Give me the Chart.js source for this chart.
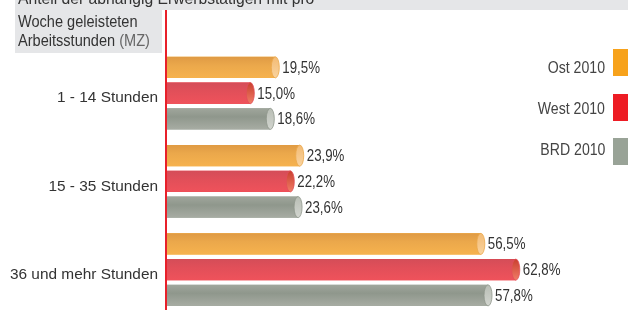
<!DOCTYPE html>
<html>
<head>
<meta charset="utf-8">
<script src="https://cdn.jsdelivr.net/npm/chart.js@4/dist/chart.umd.min.js"></script>
<style>
  html, body { margin: 0; padding: 0; background: #fff; overflow: hidden; }
  #wrap { position: relative; width: 628px; height: 310px; overflow: hidden; }
  #box { position: absolute; left: 0; top: 0; width: 628px; height: 332px; }
  .grey { position: absolute; background: #e5e6e8; }
  .title { position: absolute; left: 18px; white-space: nowrap; color: #333;
    font-family: "Liberation Sans", Arial, sans-serif;
    font-size: 16px; line-height: 19px; transform-origin: 0 50%; }
  .title span { color: #666; }
  .leg-text { position: absolute; right: 23px; white-space: nowrap; color: #444;
    font-family: "Liberation Sans", Arial, sans-serif;
    font-size: 17px; line-height: 20px; transform: scaleX(0.83); transform-origin: 100% 50%; }
  .leg-box { position: absolute; left: 613px; width: 15px; height: 27px; }
</style>
</head>
<body>
<div id="wrap">
  <div id="box"><canvas id="hoursChart"></canvas></div>
  <div class="grey" style="left:15px;top:0;width:613px;height:9.5px"></div>
  <div class="grey" style="left:15px;top:0;width:147px;height:52.5px"></div>
  <div class="title" style="top:-11px;transform:scaleX(0.98)">Anteil der abhängig Erwerbstätigen mit pro</div>
  <div class="title" style="top:11.5px;transform:scaleX(0.91)">Woche geleisteten</div>
  <div class="title" style="top:30.5px;transform:scaleX(0.91)">Arbeitsstunden <span>(MZ)</span></div>
  <div id="legend"></div>
</div>
<script>
const categories = ["1 - 14 Stunden", "15 - 35 Stunden", "36 und mehr Stunden"];
const seriesNames = ["Ost 2010", "West 2010", "BRD 2010"];
const ost2010 = [19.5, 23.9, 56.5];
const west2010 = [15.0, 22.2, 62.8];
const brd2010 = [18.6, 23.6, 57.8];

// legend swatches and bar shading
const legendColors = ["#f7a21b", "#ed1c24", "#99a397"];
const barShades = [
    ["#df9a44", "#eba84b", "#f6b24e"],
    ["#d44d58", "#e14f59", "#ef525b"],
    ["#a0a69c", "#8f978c", "#a7aca3"]
];
const capShades = [
    ["#f3bb74", "#f9d39f"],
    ["#c9402f", "#f07c66"],
    ["#b9beb5", "#d2d5cf"]
];

function fmt(v) {
    return v.toFixed(1).replace(".", ",") + "%";
}

const legend = document.getElementById("legend");
seriesNames.forEach(function (name, i) {
    const t = document.createElement("div");
    t.className = "leg-text";
    t.style.top = (57.5 + i * 41) + "px";
    t.textContent = name;
    legend.appendChild(t);
    const b = document.createElement("div");
    b.className = "leg-box";
    b.style.top = (49 + i * 44.7) + "px";
    b.style.background = legendColors[i];
    legend.appendChild(b);
});

const cylinderBars = {
    id: "cylinderBars",
    afterDatasetsDraw(chart) {
        const ctx = chart.ctx;
        ctx.save();
        chart.data.datasets.forEach(function (ds, i) {
            const meta = chart.getDatasetMeta(i);
            meta.data.forEach(function (bar, j) {
                const p = bar.getProps(["x", "y", "base", "height"], true);
                const top = p.y - p.height / 2;
                const g = ctx.createLinearGradient(0, top, 0, top + p.height);
                g.addColorStop(0, barShades[i][0]);
                g.addColorStop(0.4, barShades[i][1]);
                g.addColorStop(1, barShades[i][2]);
                ctx.fillStyle = g;
                ctx.fillRect(p.base, top, p.x - p.base, p.height);

                const cg = ctx.createLinearGradient(0, top, 0, top + p.height);
                cg.addColorStop(0, capShades[i][0]);
                cg.addColorStop(1, capShades[i][1]);
                ctx.beginPath();
                ctx.ellipse(p.x, p.y, 4, p.height / 2, 0, 0, Math.PI * 2);
                ctx.fillStyle = cg;
                ctx.fill();
                ctx.lineWidth = 0.8;
                ctx.strokeStyle = barShades[i][1];
                ctx.stroke();

                // value label, slightly condensed
                ctx.save();
                ctx.translate(p.x + 7, p.y + 1);
                ctx.scale(0.83, 1);
                ctx.fillStyle = "#333";
                ctx.font = '16px "Liberation Sans", Arial, sans-serif';
                ctx.textAlign = "left";
                ctx.textBaseline = "middle";
                ctx.fillText(fmt(ds.data[j]), 0, 0);
                ctx.restore();
            });
        });
        // red axis line
        const left = chart.chartArea.left;
        ctx.strokeStyle = "#e8202a";
        ctx.lineWidth = 2;
        ctx.beginPath();
        ctx.moveTo(left - 1, 10);
        ctx.lineTo(left - 1, chart.height);
        ctx.stroke();
        ctx.restore();
    }
};

new Chart(document.getElementById("hoursChart").getContext("2d"), {
    type: "bar",
    data: {
        labels: categories,
        datasets: [
            { label: seriesNames[0], data: ost2010, backgroundColor: legendColors[0] },
            { label: seriesNames[1], data: west2010, backgroundColor: legendColors[1] },
            { label: seriesNames[2], data: brd2010, backgroundColor: legendColors[2] }
        ]
    },
    options: {
        indexAxis: "y",
        responsive: true,
        maintainAspectRatio: false,
        animation: false,
        categoryPercentage: 0.875,
        barPercentage: 0.82,
        layout: { padding: { top: 49, bottom: 2, right: 0, left: 0 } },
        plugins: {
            legend: { display: false },
            tooltip: { enabled: false }
        },
        scales: {
            x: { display: false, min: 0, max: 83 },
            y: {
                grid: { display: false, drawTicks: false },
                border: { display: false },
                ticks: {
                    color: "#333",
                    padding: 9,
                    labelOffset: 5,
                    font: { family: '"Liberation Sans", Arial, sans-serif', size: 15.4 }
                },
                afterFit: function (axis) { axis.width = 167; }
            }
        }
    },
    plugins: [cylinderBars]
});
</script>
</body>
</html>
